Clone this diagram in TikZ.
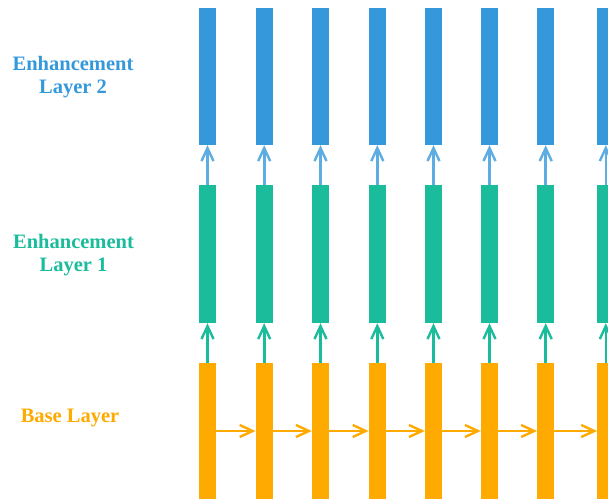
\documentclass[tikz,border=0pt]{standalone}
\usepackage{fontspec}
\setmainfont{Liberation Serif}
\usetikzlibrary{arrows.meta}
\definecolor{cblue}{HTML}{3498DB}
\definecolor{cblueA}{HTML}{5DADE2}
\definecolor{cgreen}{HTML}{1ABC9C}
\definecolor{corange}{HTML}{FFAA00}
\tikzset{
  bar/.style={draw=none, inner sep=0pt, minimum width=17pt},
  bluebar/.style={bar, fill=cblue, minimum height=137pt},
  greenbar/.style={bar, fill=cgreen, minimum height=138pt},
  orangebar/.style={bar, fill=corange, minimum height=136pt},
  arr/.style={line width=2.6pt, -{Straight Barb[length=13pt,width=12pt,line width=2.4pt]}},
  lbl/.style={font=\fontsize{20.5}{23}\selectfont\bfseries, align=center, inner sep=0pt},
}
\begin{document}
\begin{tikzpicture}[x=1pt,y=-1pt]
\useasboundingbox (0,0) rectangle (608,502);
\clip (0,0) rectangle (608,502);
\foreach \i/\x in {1/207.5,2/264.2,3/320.5,4/377.3,5/433.5,6/489.5,7/545.7,8/605.8}{
  \node[bluebar] (b\i) at (\x,76.5) {};
  \node[greenbar] (g\i) at (\x,254) {};
  \node[orangebar] (o\i) at (\x,431) {};
  \draw[arr, cblueA] (g\i.north) -- (b\i.south);
  \draw[arr, cgreen] (o\i.north) -- (g\i.south);
}
\foreach \i/\j in {1/2,2/3,3/4,4/5,5/6,6/7,7/8}{
  \draw[arr, corange] (o\i.east) -- (o\j.west);
}
\node[lbl, text=cblue] (l2) at (73,77) {Enhancement\\Layer 2};
\node[lbl, text=cgreen] (l1) at (73.5,255.5) {Enhancement\\Layer 1};
\node[lbl, text=corange, anchor=base] (l0) at (70,422.5) {Base Layer};
\end{tikzpicture}
\end{document}
